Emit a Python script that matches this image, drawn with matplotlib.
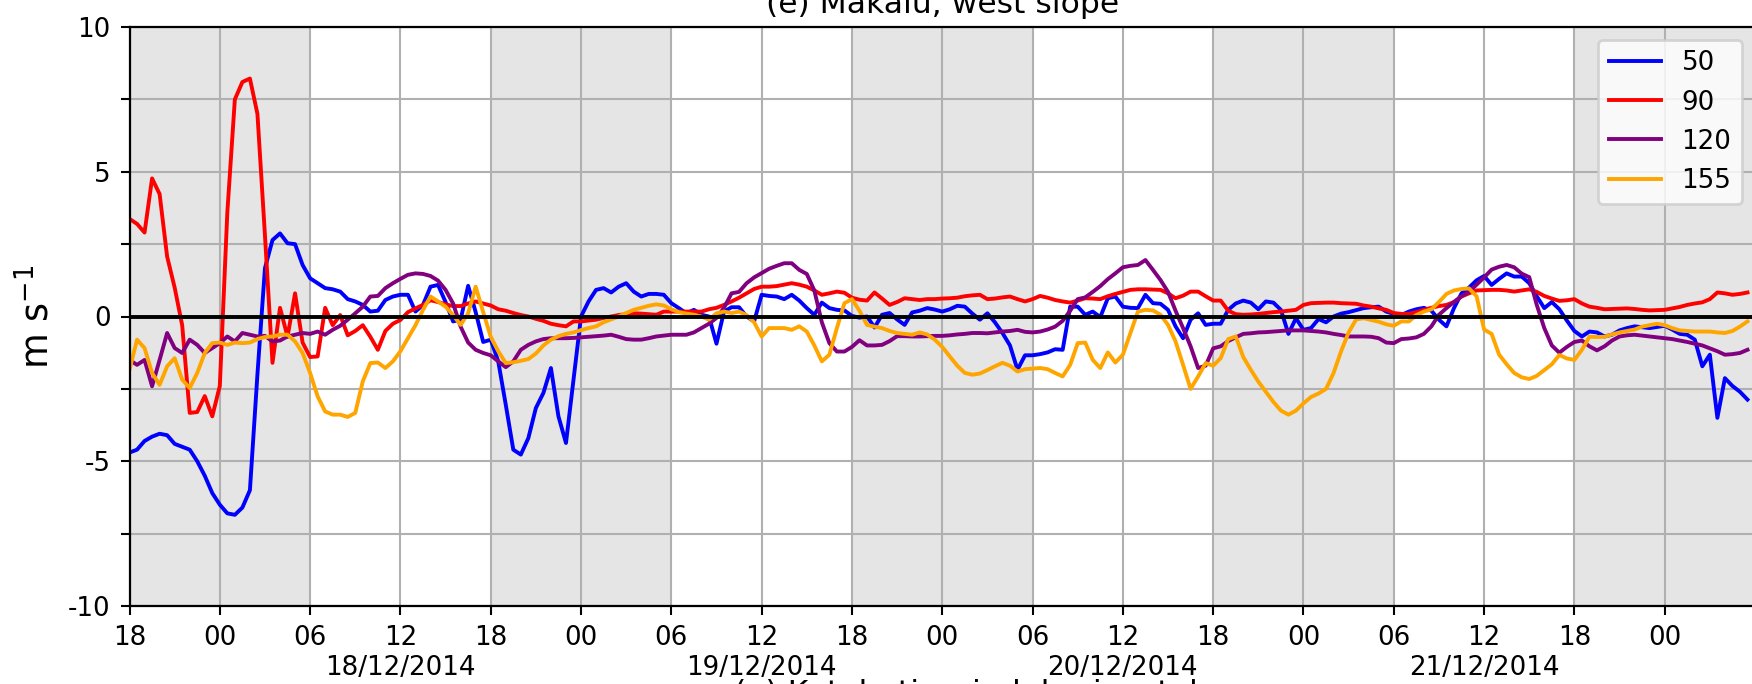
import numpy as np
import pandas as pd
import matplotlib
matplotlib.use('Agg')
import matplotlib.pyplot as plt
import matplotlib.dates as mdates
from matplotlib.ticker import FuncFormatter, MultipleLocator

# half-hourly values, 17/12/2014 18:00 -> 22/12/2014 05:30
times = pd.date_range('2014-12-17 18:00', periods=216, freq='30min')

v50 = [
    -4.7, -4.6, -4.3, -4.15, -4.05, -4.1, -4.4, -4.5, -4.6, -5.0, -5.5, -6.1,
    -6.5, -6.8, -6.85, -6.6, -6.0, -2.0, 1.67, 2.64, 2.87, 2.53, 2.5, 1.78,
    1.32, 1.15, 0.98, 0.94, 0.86, 0.6, 0.52, 0.4, 0.17, 0.2, 0.57, 0.69,
    0.75, 0.75, 0.17, 0.4, 1.03, 1.09, 0.5, -0.17, -0.11, 1.06, 0.15, -0.88,
    -0.8, -1.55, -3.05, -4.6, -4.77, -4.2, -3.16, -2.64, -1.78, -3.45, -4.37, -2.18,
    0.0, 0.52, 0.92, 0.98, 0.83, 1.03, 1.15, 0.86, 0.69, 0.78, 0.78, 0.75,
    0.46, 0.29, 0.11, 0.23, 0.06, 0.0, -0.94, 0.17, 0.32, 0.32, 0.0, -0.17,
    0.75, 0.71, 0.69, 0.6, 0.75, 0.55, 0.29, 0.06, 0.48, 0.29, 0.23, 0.21,
    0.02, -0.04, 0.0, -0.38, 0.06, 0.12, -0.1, -0.29, 0.14, 0.2, 0.29, 0.24,
    0.17, 0.25, 0.37, 0.34, 0.1, -0.11, 0.11, -0.2, -0.57, -1.0, -1.84, -1.34,
    -1.34, -1.3, -1.24, -1.13, -1.15, 0.34, 0.34, 0.06, 0.17, -0.02, 0.63, 0.69,
    0.34, 0.3, 0.29, 0.75, 0.46, 0.44, 0.23, -0.34, -0.75, -0.11, 0.11, -0.29,
    -0.25, -0.25, 0.23, 0.45, 0.55, 0.48, 0.25, 0.52, 0.48, 0.23, -0.6, -0.06,
    -0.46, -0.4, -0.09, -0.2, 0.0, 0.1, 0.15, 0.22, 0.29, 0.32, 0.34, 0.17,
    0.09, 0.05, 0.17, 0.25, 0.3, 0.2, -0.11, -0.34, 0.29, 0.8, 1.0, 1.25,
    1.4, 1.09, 1.3, 1.49, 1.38, 1.38, 1.15, 0.7, 0.29, 0.5, 0.25, -0.14,
    -0.5, -0.69, -0.52, -0.55, -0.69, -0.63, -0.48, -0.4, -0.34, -0.37, -0.4, -0.36,
    -0.32, -0.45, -0.6, -0.63, -0.8, -1.72, -1.32, -3.5, -2.13, -2.4, -2.6, -2.87,
]

v90 = [
    3.37, 3.2, 2.9, 4.77, 4.23, 2.07, 1.0, -0.3, -3.33, -3.3, -2.75, -3.45,
    -2.4, 3.6, 7.5, 8.1, 8.22, 7.0, 2.8, -1.6, 0.3, -0.7, 0.8, -0.9,
    -1.4, -1.38, 0.3, -0.3, 0.05, -0.65, -0.5, -0.3, -0.7, -1.15, -0.5, -0.25,
    -0.12, 0.15, 0.28, 0.4, 0.56, 0.5, 0.42, 0.36, 0.36, 0.45, 0.52, 0.45,
    0.38, 0.25, 0.2, 0.12, 0.05, 0.0, -0.08, -0.15, -0.25, -0.3, -0.34, -0.17,
    -0.17, -0.14, -0.11, -0.05, 0.0, 0.05, 0.08, 0.11, 0.1, 0.08, 0.06, 0.17,
    0.17, 0.17, 0.17, 0.17, 0.17, 0.25, 0.3, 0.4, 0.52, 0.65, 0.8, 0.95,
    1.03, 1.03, 1.05, 1.1, 1.15, 1.1, 1.03, 0.9, 0.75, 0.8, 0.86, 0.82,
    0.65, 0.58, 0.55, 0.83, 0.62, 0.4, 0.5, 0.63, 0.6, 0.57, 0.6, 0.6,
    0.62, 0.63, 0.65, 0.7, 0.73, 0.75, 0.6, 0.62, 0.66, 0.69, 0.6, 0.52,
    0.6, 0.71, 0.65, 0.57, 0.52, 0.48, 0.55, 0.63, 0.62, 0.6, 0.7, 0.78,
    0.85, 0.92, 0.94, 0.94, 0.93, 0.92, 0.8, 0.63, 0.72, 0.86, 0.86, 0.7,
    0.55, 0.55, 0.2, 0.08, 0.06, 0.07, 0.09, 0.12, 0.15, 0.17, 0.2, 0.23,
    0.4, 0.46, 0.47, 0.48, 0.48, 0.46, 0.45, 0.44, 0.38, 0.34, 0.28, 0.23,
    0.12, 0.09, 0.09, 0.15, 0.23, 0.3, 0.36, 0.4, 0.5, 0.69, 0.8, 0.9,
    0.91, 0.92, 0.92, 0.9, 0.86, 0.9, 0.94, 0.85, 0.71, 0.62, 0.54, 0.56,
    0.6, 0.45, 0.34, 0.3, 0.25, 0.26, 0.27, 0.28, 0.26, 0.23, 0.21, 0.22,
    0.23, 0.28, 0.33, 0.4, 0.45, 0.49, 0.6, 0.83, 0.8, 0.75, 0.78, 0.83,
]

v120 = [
    -1.5, -1.67, -1.5, -2.41, -1.5, -0.57, -1.09, -1.26, -0.8, -0.98, -1.26, -1.09,
    -0.92, -0.69, -0.86, -0.57, -0.63, -0.69, -0.67, -0.86, -0.83, -0.69, -0.63, -0.57,
    -0.6, -0.52, -0.63, -0.46, -0.32, -0.11, 0.11, 0.34, 0.69, 0.71, 0.98, 1.15,
    1.3, 1.44, 1.49, 1.47, 1.4, 1.24, 0.92, 0.45, -0.35, -0.9, -1.15, -1.26,
    -1.34, -1.55, -1.75, -1.55, -1.15, -0.98, -0.86, -0.78, -0.75, -0.75, -0.75, -0.74,
    -0.72, -0.7, -0.68, -0.66, -0.63, -0.7, -0.78, -0.8, -0.8, -0.75, -0.69, -0.66,
    -0.63, -0.63, -0.63, -0.55, -0.4, -0.25, -0.05, 0.3, 0.8, 0.85, 1.15, 1.35,
    1.5, 1.65, 1.75, 1.84, 1.84, 1.61, 1.47, 0.9, -0.2, -0.92, -1.21, -1.21,
    -1.05, -0.82, -1.0, -1.0, -0.98, -0.85, -0.68, -0.68, -0.69, -0.69, -0.68, -0.67,
    -0.67, -0.65, -0.62, -0.6, -0.57, -0.57, -0.58, -0.55, -0.52, -0.5, -0.46, -0.53,
    -0.55, -0.52, -0.45, -0.35, -0.15, 0.2, 0.6, 0.66, 0.85, 1.05, 1.29, 1.49,
    1.7, 1.75, 1.78, 1.95, 1.61, 1.26, 0.85, 0.2, -0.4, -1.03, -1.78, -1.7,
    -1.1, -1.03, -0.85, -0.72, -0.6, -0.58, -0.55, -0.54, -0.52, -0.5, -0.48, -0.48,
    -0.48, -0.5, -0.52, -0.55, -0.6, -0.64, -0.69, -0.69, -0.69, -0.7, -0.75, -0.9,
    -0.92, -0.78, -0.76, -0.72, -0.6, -0.34, 0.06, 0.29, 0.5, 0.7, 0.85, 1.1,
    1.35, 1.62, 1.72, 1.78, 1.7, 1.48, 1.36, 0.4, -0.4, -1.0, -1.25, -1.05,
    -0.88, -0.83, -1.03, -1.17, -1.03, -0.83, -0.69, -0.65, -0.63, -0.66, -0.69, -0.72,
    -0.75, -0.78, -0.83, -0.88, -0.94, -1.0, -1.1, -1.2, -1.32, -1.3, -1.26, -1.15,
]

v155 = [
    -1.84, -0.8, -1.09, -1.95, -2.36, -1.72, -1.44, -2.18, -2.47, -1.95, -1.26, -0.92,
    -0.9, -0.98, -0.9, -0.92, -0.9, -0.78, -0.71, -0.69, -0.63, -0.63, -0.86, -1.26,
    -1.95, -2.76, -3.28, -3.39, -3.39, -3.47, -3.33, -2.24, -1.61, -1.59, -1.78, -1.55,
    -1.2, -0.75, -0.3, 0.23, 0.69, 0.52, 0.34, 0.05, -0.29, 0.11, 1.03, 0.15,
    -0.7, -1.2, -1.61, -1.58, -1.53, -1.47, -1.28, -1.0, -0.8, -0.68, -0.6, -0.55,
    -0.47, -0.4, -0.34, -0.2, -0.1, 0.0, 0.12, 0.23, 0.3, 0.37, 0.42, 0.38,
    0.25, 0.15, 0.1, 0.06, 0.0, -0.11, 0.11, 0.17, 0.12, 0.17, 0.05, -0.2,
    -0.69, -0.4, -0.4, -0.4, -0.46, -0.34, -0.52, -1.0, -1.55, -1.32, -0.4, 0.46,
    0.6, 0.2, -0.29, -0.35, -0.4, -0.5, -0.57, -0.6, -0.63, -0.55, -0.62, -0.8,
    -1.05, -1.38, -1.7, -1.95, -2.01, -1.97, -1.85, -1.72, -1.6, -1.7, -1.9, -1.82,
    -1.8, -1.78, -1.82, -1.95, -2.07, -1.67, -0.92, -0.9, -1.5, -1.78, -1.24, -1.59,
    -1.32, -0.57, 0.17, 0.23, 0.21, 0.06, -0.29, -0.86, -1.67, -2.5, -2.07, -1.61,
    -1.7, -1.44, -0.78, -0.69, -1.4, -1.84, -2.25, -2.6, -2.95, -3.25, -3.39, -3.25,
    -3.0, -2.78, -2.66, -2.5, -1.95, -1.2, -0.55, -0.1, -0.06, -0.12, -0.18, -0.27,
    -0.32, -0.17, -0.17, 0.05, 0.17, 0.25, 0.5, 0.78, 0.9, 0.95, 0.97, 0.7,
    -0.45, -0.6, -1.32, -1.65, -1.95, -2.1, -2.16, -2.05, -1.85, -1.65, -1.33, -1.45,
    -1.5, -1.15, -0.7, -0.71, -0.7, -0.62, -0.55, -0.5, -0.45, -0.35, -0.3, -0.25,
    -0.3, -0.4, -0.48, -0.5, -0.52, -0.52, -0.52, -0.55, -0.57, -0.5, -0.35, -0.17,
]

labels = ['50', '90', '120', '155']
colors = ['blue', 'red', 'purple', 'orange']

# night periods (18:00 - 06:00) shaded grey
nights = [
    ('2014-12-17 18:00', '2014-12-18 06:00'),
    ('2014-12-18 18:00', '2014-12-19 06:00'),
    ('2014-12-19 18:00', '2014-12-20 06:00'),
    ('2014-12-20 18:00', '2014-12-21 06:00'),
    ('2014-12-21 18:00', '2014-12-22 06:00'),
]

fs = 9.4
t_end = pd.Timestamp('2014-12-22 06:00')

fig = plt.figure(figsize=(8.76, 3.42), dpi=200)
ax = fig.add_axes([129.5 / 1752, 78 / 684, (1755 - 129.5) / 1752, 579 / 684])

for a, b in nights:
    ax.axvspan(pd.Timestamp(a), pd.Timestamp(b), color='#e5e5e5', zorder=0, lw=0)

for vals, lab, col in zip([v50, v90, v120, v155], labels, colors):
    ax.plot(times, vals, color=col, lw=1.4, label=lab)

ax.axhline(0, color='black', lw=1.4)

ax.set_xlim(times[0], t_end)
ax.set_ylim(-10, 10)

ax.xaxis.set_major_locator(mdates.HourLocator(byhour=[0, 6, 12, 18]))
x_last = mdates.date2num(t_end)


def hour_fmt(x, pos):
    if x >= x_last - 1e-6:      # tick on the cut-off right edge: no label
        return ''
    d = mdates.num2date(x)
    if d.hour == 12:
        return d.strftime('%H\n%d/%m/%Y')
    return d.strftime('%H')


ax.xaxis.set_major_formatter(FuncFormatter(hour_fmt))
ax.yaxis.set_major_locator(MultipleLocator(2.5))
ax.yaxis.set_major_formatter(FuncFormatter(
    lambda v, p: '%d' % round(v) if abs(v % 5) < 1e-6 else ''))

ax.tick_params(labelsize=fs, length=3.3, width=0.75)
ax.set_axisbelow(True)
ax.grid(True, color='#b0b0b0', lw=0.75)

ax.set_ylabel('m s$^{-1}$', fontsize=13.2)
ax.yaxis.set_label_coords(-0.0447, 0.5)

ax.set_title('(e) Makalu, west slope', fontsize=11.3, pad=4.9)

ax.legend(loc='upper right', fontsize=fs)

# title of the panel below, mostly cut off by the figure edge
fig.text(966 / 1752, 1 - 679 / 684, '(e) Katabatic wind, horizontal',
         ha='center', va='top', fontsize=11.3)

fig.savefig('out.png', dpi=200)
